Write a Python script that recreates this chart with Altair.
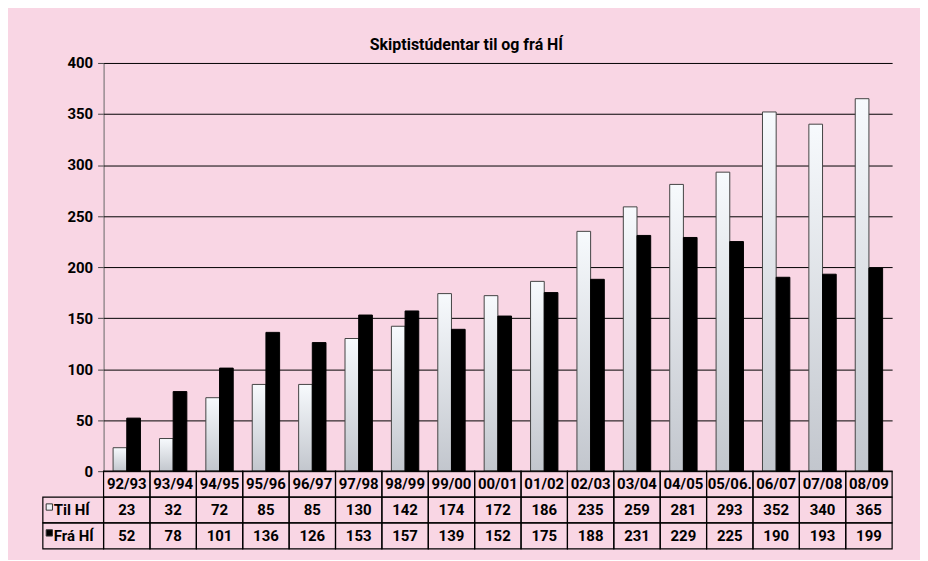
import altair as alt
import pandas as pd

categories = ["92/93", "93/94", "94/95", "95/96", "96/97", "97/98", "98/99",
              "99/00", "00/01", "01/02", "02/03", "03/04", "04/05", "05/06.",
              "06/07", "07/08", "08/09"]
til_hi = [23, 32, 72, 85, 85, 130, 142, 174, 172, 186, 235, 259, 281, 293, 352, 340, 365]
fra_hi = [52, 78, 101, 136, 126, 153, 157, 139, 152, 175, 188, 231, 229, 225, 190, 193, 199]
series = ["Til HÍ", "Frá HÍ"]
y_ticks = [0, 50, 100, 150, 200, 250, 300, 350, 400]
header_row = "Ár"
title_text = "Skiptistúdentar til og frá HÍ"

FONT = "Roboto"
WEIGHT = "bold"
PLOT_W = 792
PLOT_H = 410
LABEL_W = 61
TABLE_H = 78

n = len(categories)
rows = [header_row] + series

bars = pd.DataFrame({
    "cat": categories * 2,
    "series": [series[0]] * n + [series[1]] * n,
    "value": til_hi + fra_hi,
})
table = pd.DataFrame({
    "cat": categories * 3,
    "row": [header_row] * n + [series[0]] * n + [series[1]] * n,
    "label": categories + [str(v) for v in til_hi] + [str(v) for v in fra_hi],
})
labels = pd.DataFrame({"row": series})
ticks_df = pd.DataFrame({"value": y_ticks})

y_scale = alt.Scale(domain=[0, 400], nice=False)

# ---- y axis column (left of plot) ----
axis_col = alt.Chart(ticks_df).mark_point(opacity=0).encode(
    y=alt.Y("value:Q", scale=y_scale,
            axis=alt.Axis(values=y_ticks, title=None, grid=False, offset=-LABEL_W,
                          domainColor="#666", tickColor="#444", tickSize=6, labelPadding=5,
                          labelFont=FONT, labelFontSize=15, labelFontWeight=WEIGHT,
                          labelColor="black")),
    x=alt.value(0),
).properties(width=LABEL_W, height=PLOT_H)

# ---- bar chart ----
x_enc = alt.X("cat:N", sort=categories,
              scale=alt.Scale(paddingInner=0.41, paddingOuter=0.205), axis=None)
y_enc = alt.Y("value:Q", scale=y_scale,
              axis=alt.Axis(values=y_ticks, title=None, grid=True, gridColor="black",
                            gridWidth=1, gridOpacity=1, domain=False, ticks=False,
                            labels=False))
xoff = alt.XOffset("series:N", sort=series,
                   scale=alt.Scale(domain=series, paddingInner=0, paddingOuter=0))

til_grad = alt.Gradient(gradient="linear",
                        stops=[alt.GradientStop(color="#F7FAFD", offset=0),
                               alt.GradientStop(color="#C2C6CD", offset=1)],
                        x1=0, x2=0, y1=0, y2=1)

til_layer = alt.Chart(bars).transform_filter(
    alt.FieldEqualPredicate(field="series", equal=series[0])
).mark_bar(fill=til_grad, stroke="#444", strokeWidth=1).encode(x=x_enc, y=y_enc, xOffset=xoff)

fra_layer = alt.Chart(bars).transform_filter(
    alt.FieldEqualPredicate(field="series", equal=series[1])
).mark_bar(fill="black", stroke="black", strokeWidth=1).encode(x=x_enc, y=y_enc, xOffset=xoff)

plot = alt.layer(til_layer, fra_layer).properties(width=PLOT_W, height=PLOT_H)

# ---- data table ----
tx = alt.X("cat:N", sort=categories, scale=alt.Scale(paddingInner=0, paddingOuter=0), axis=None)
ty = alt.Y("row:N", sort=rows, scale=alt.Scale(domain=rows, paddingInner=0, paddingOuter=0), axis=None)

cells = alt.Chart(table).mark_rect(fillOpacity=0, stroke="black", strokeWidth=1.2).encode(x=tx, y=ty)
texts = alt.Chart(table).mark_text(font=FONT, fontSize=15, fontWeight=WEIGHT, color="black").encode(
    x=tx, y=ty, text="label:N")
tbl = alt.layer(cells, texts).properties(width=PLOT_W, height=TABLE_H)

lcells = alt.Chart(labels).mark_rect(fillOpacity=0, stroke="black", strokeWidth=1.2).encode(y=ty)
lsq = alt.Chart(labels).mark_square(size=40, stroke="#333", strokeWidth=1, opacity=1).encode(
    y=ty, x=alt.value(6.5), yOffset=alt.value(10),
    fill=alt.Fill("row:N", scale=alt.Scale(domain=series, range=["#EEF1F5", "black"]), legend=None))
ltext = alt.Chart(labels).mark_text(align="left", font=FONT, fontSize=15, fontWeight=WEIGHT,
                                    color="black").encode(y=ty, x=alt.value(11), text="row:N")
lab = alt.layer(lcells, lsq, ltext).properties(width=LABEL_W, height=TABLE_H)

chart = alt.concat(axis_col, plot, lab, tbl, columns=2, spacing=0, bounds="flush").resolve_scale(
    x="independent", y="independent"
).properties(
    title=alt.TitleParams(text=title_text, font=FONT, fontSize=16, fontWeight=WEIGHT,
                          color="black", anchor="middle", offset=3),
    background="#F9D6E4",
    padding={"left": 32, "top": 28, "right": 27, "bottom": 9},
).configure_view(stroke=None)

chart.save("out.html", embed_options={"renderer": "svg", "actions": False})
